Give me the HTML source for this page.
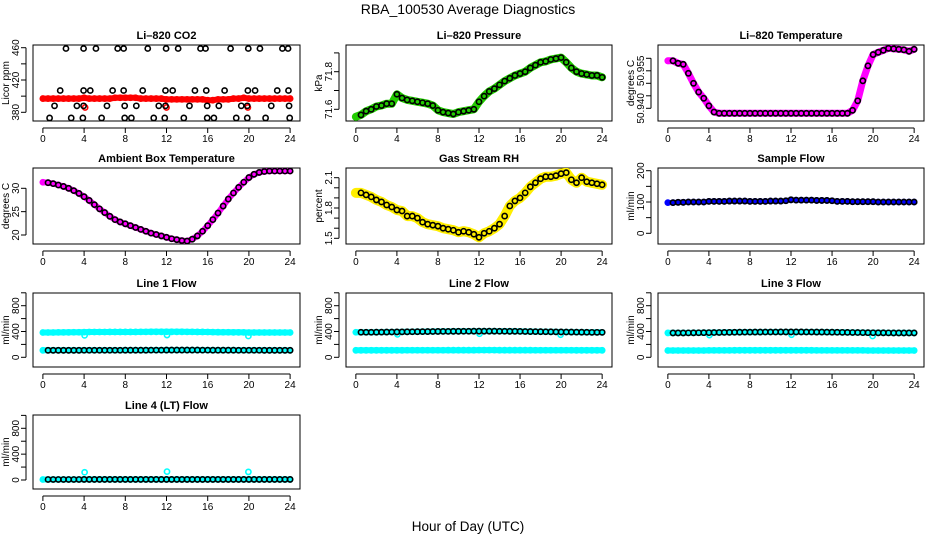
<!DOCTYPE html>
<html><head><meta charset="utf-8">
<style>
html,body{margin:0;padding:0;background:#fff;}
svg{display:block;font-family:"Liberation Sans",sans-serif;}
</style></head>
<body>
<svg id="chart" width="936" height="540" viewBox="0 0 936 540" xmlns="http://www.w3.org/2000/svg">
<text x="468" y="14" text-anchor="middle" font-size="14">RBA_100530  Average Diagnostics</text>
<text x="468" y="531" text-anchor="middle" font-size="13.5">Hour of Day (UTC)</text>
</svg>
<script>
// ---- data (half-hour steps, 0..24) ----
const hours = [];
for (let i = 0; i <= 48; i++) hours.push(i / 2);
const xTicks = [0, 4, 8, 12, 16, 20, 24];

const co2Band = [397,397,397,397,397,397,397,397,398,397,397,397,397,397,398,398,398,398,398,397,397,397,397,397,396,396,396,396,396,396,396,396,395,395,396,396,396,397,397,398,397,397,397,397,397,397,397,397,397];
const co2BlackHours = [2.24,3.95,5.15,7.26,7.84,10.18,11.96,13.13,15.3,15.79,18.22,19.94,21.07,23.25,23.8, 1.68,3.95,4.6,6.77,7.84,9.69,11.9,12.6,14.76,15.86,17.64,19.9,20.6,22.75,23.84, 1.13,3.3,3.95,6.22,7.94,9.07,11.25,11.9,14.23,15.95,17.08,19.26,19.84,22.17,23.9, 0.65,2.75,3.88,5.7,7.94,8.59,10.76,11.83,13.68,15.95,16.6,18.77,19.84,21.62,23.96];
const co2BlackVals = [459,459,459,459,459,459,459,459,459,459,459,459,459,459,459, 407,407,407,407,407,407,407,407,407,407,407,407,407,407,407, 388,388,388,388,388,388,388,388,388,388,388,388,388,388,388, 373,373,373,373,373,373,373,373,373,373,373,373,373,373,373];
const co2RedOutHours = [4.1, 12.0, 19.9];
const co2RedOutVals = [386, 386, 386];

const pressure = [71.56,71.57,71.59,71.60,71.615,71.62,71.63,71.63,71.68,71.66,71.65,71.645,71.64,71.635,71.63,71.62,71.595,71.585,71.58,71.575,71.585,71.59,71.595,71.60,71.64,71.67,71.695,71.71,71.73,71.75,71.765,71.78,71.79,71.80,71.82,71.835,71.85,71.855,71.865,71.87,71.875,71.85,71.82,71.80,71.79,71.785,71.78,71.78,71.77];

const liTemp = [50.959,50.959,50.958,50.9576,50.954,50.950,50.9465,50.944,50.941,50.9385,
 50.938,50.938,50.938,50.938,50.938,50.938,50.938,50.938,50.938,50.938,50.938,50.938,50.938,50.938,50.938,50.938,50.938,50.938,50.938,50.938,50.938,50.938,50.938,50.938,50.938,50.938,
 50.9392,50.943,50.951,50.957,50.9615,50.9624,50.9632,50.964,50.9638,50.9636,50.9634,50.9628,50.9636];

const ambient = [31.3,31.2,31.0,30.7,30.4,30.0,29.5,28.9,28.2,27.4,26.5,25.6,24.8,24.0,23.3,22.8,22.4,22.0,21.6,21.2,20.8,20.4,20.1,19.8,19.5,19.2,19.0,18.8,18.7,
 19.1,19.8,20.8,22.0,23.3,24.7,26.2,27.7,29.0,30.2,31.3,32.3,33.0,33.4,33.6,33.7,33.7,33.7,33.7,33.7];

const rh = [1.95,1.95,1.93,1.91,1.88,1.86,1.83,1.81,1.78,1.77,1.72,1.72,1.70,1.66,1.64,1.63,1.62,1.60,1.59,1.58,1.56,1.57,1.56,1.54,1.51,1.55,1.57,1.60,1.64,1.72,1.82,1.87,1.90,1.95,2.01,2.05,2.09,2.11,2.11,2.12,2.14,2.15,2.08,2.05,2.10,2.06,2.05,2.04,2.03];

const sampleFlow = [98,98,99,99,100,100,100,100,102,102,102,102,103,103,103,103,102,102,102,102,103,103,103,104,107,106,106,106,106,105,105,105,104,102,102,102,101,101,101,101,101,100,100,100,100,100,100,100,100];

const line1Hi = [385,385,385,386,386,387,388,388,390,392,392,392,392,393,393,393,393,393,393,394,394,395,395,395,396,395,395,395,394,394,393,393,392,390,389,388,388,387,387,386,385,385,385,385,384,384,384,384,384];
const line1Lo = [108,108,108,108,108,108,108,108,109,109,109,109,109,109,109,109,110,110,110,110,110,111,111,111,112,112,112,112,112,112,112,111,111,110,110,110,110,110,109,109,109,109,109,108,108,108,108,108,108];
const line1Out = [340, 345, 330];

const line2Hi = [388,388,388,388,389,390,391,392,393,394,395,396,397,398,399,400,401,402,402,403,403,404,404,405,405,405,405,405,404,404,403,403,402,400,399,398,397,396,395,394,393,392,391,390,389,388,387,387,387];
const line2Lo = [108,108,108,108,108,108,108,108,108,108,109,109,109,109,109,109,109,109,110,110,110,110,110,110,111,111,111,111,110,110,110,110,110,110,110,109,109,109,109,109,109,109,109,108,108,108,108,108,108];
const line2Out = [355, 365, 350];

const line3Hi = [378,378,378,378,379,380,381,382,383,384,385,386,387,388,389,390,390,391,391,392,392,392,393,393,393,393,393,392,392,391,391,390,389,388,387,386,385,384,383,382,381,380,380,379,378,378,378,378,378];
const line3Lo = [105,105,105,105,106,106,106,106,107,107,107,107,107,108,108,108,108,108,108,108,108,108,108,108,108,108,108,108,108,107,107,107,107,107,107,107,107,107,107,106,106,106,106,106,106,106,106,106,106];
const line3Out = [345, 350, 330];

const line4Flow = [8,8,8,8,8,8,8,8,9,9,9,9,9,9,9,9,9,9,9,9,9,9,9,9,9,9,9,9,9,9,9,9,9,9,9,9,9,9,9,9,9,9,9,9,9,9,9,9,9];
const line4Out = [120, 130, 125];
const outHours = [4.05, 12.05, 19.95];

// ---- layout ----
const NS = "http://www.w3.org/2000/svg";
const svg = document.getElementById('chart');
const cols = [[33,300],[346,612],[658,924]];
const rows = [[45,121],[168,244],[293,367],[415,489]];

function mk(tag, attrs, parent) {
  const e = document.createElementNS(NS, tag);
  for (const k in attrs) e.setAttribute(k, attrs[k]);
  (parent || svg).appendChild(e);
  return e;
}

function panel(cfg) {
  const [L, R] = cols[cfg.col];
  const [T, B] = rows[cfg.row];
  const g = mk('g', {});
  
  
  const W = R - L;
  const xs = h => L + W * (h + 0.96) / 25.92;
  const [v1, p1, v2, p2] = cfg.anchors;
  const ys = v => p1 + (v - v1) * (p2 - p1) / (v2 - v1);
  const box = mk('rect', {x: L, y: T, width: W, height: B - T, fill: 'none', stroke: '#000', 'stroke-width': 1}, g);
  
  
  const t = mk('text', {x: (L + R) / 2, y: T - 6, 'text-anchor': 'middle', 'font-size': 11, 'font-weight': 'bold'}, g);
  t.textContent = cfg.title;
  
  
  const xa = mk('g', {}, g);
  
  
  mk('line', {x1: xs(0), x2: xs(24), y1: B + 7, y2: B + 7, stroke: '#000'}, xa);
  xTicks.forEach(h => {
    mk('line', {x1: xs(h), x2: xs(h), y1: B + 7, y2: B + 12, stroke: '#000'}, xa);
    const tl = mk('text', {x: xs(h), y: B + 21, 'text-anchor': 'middle', 'font-size': 10}, xa);
    tl.textContent = h;
    
    
  });
  const ya = mk('g', {}, g);
  
  
  const tk = cfg.ticks;
  mk('line', {x1: L - 7, x2: L - 7, y1: ys(tk[0]), y2: ys(tk[tk.length - 1]), stroke: '#000'}, ya);
  tk.forEach(v => mk('line', {x1: L - 12, x2: L - 7, y1: ys(v), y2: ys(v), stroke: '#000'}, ya));
  cfg.labels.forEach((lab, i) => {
    const y = ys(cfg.labelVals[i]);
    const tl = mk('text', {x: 0, y: 0, transform: `translate(${L - 14},${y}) rotate(-90)`, 'text-anchor': 'middle', 'font-size': 10}, ya);
    tl.textContent = lab;
    
    
  });
  const yt = mk('text', {x: 0, y: 0, transform: `translate(${L - 24},${(T + B) / 2}) rotate(-90)`, 'text-anchor': 'middle', 'font-size': 10}, ya);
  yt.textContent = cfg.ylab;
  
  
  const cid = 'clip-' + cfg.name;
  const cp = mk('clipPath', {id: cid}, g);
  mk('rect', {x: L, y: T, width: W, height: B - T}, cp);
  const plot = mk('g', {'clip-path': `url(#${cid})`}, g);
  
  
  cfg.draw(plot, xs, ys);
}

function band(parent, xsArr, vals, xs, ys, color, name, width) {
  const pts = vals.map((v, i) => xs(xsArr[i]).toFixed(1) + ',' + ys(v).toFixed(1)).join(' ');
  const pl = mk('polyline', {points: pts, fill: 'none', stroke: color, 'stroke-width': width || 6, 'stroke-linejoin': 'round', 'stroke-linecap': 'round'}, parent);
  
  
  vals.forEach((v, i) => {
    const c = mk('circle', {cx: xs(xsArr[i]), cy: ys(v), r: 2.6, fill: 'none', stroke: color, 'stroke-width': 1.6}, parent);
    
    
  });
}
function circles(parent, xsArr, vals, xs, ys, color, name, skipFirst) {
  vals.forEach((v, i) => {
    if (skipFirst && i === 0) return;
    const c = mk('circle', {cx: xs(xsArr[i]), cy: ys(v), r: 2.6, fill: 'none', stroke: color, 'stroke-width': 1.6}, parent);
    
    
  });
}

panel({name: 'co2-panel', col: 0, row: 0, title: 'Li\u2013820 CO2', ylab: 'Licor ppm',
  anchors: [380, 112.3, 460, 47.7], ticks: [380,400,420,440,460], labels: ['380','420','460'], labelVals: [380,420,460],
  draw: (p, xs, ys) => {
    band(p, hours, co2Band, xs, ys, '#ff0000', 'co2-band', 6);
    circles(p, co2RedOutHours, co2RedOutVals, xs, ys, '#ff0000', 'co2-outlier');
    circles(p, co2BlackHours, co2BlackVals, xs, ys, '#000', 'co2-average');
  }});

panel({name: 'pressure-panel', col: 1, row: 0, title: 'Li\u2013820 Pressure', ylab: 'kPa',
  anchors: [71.6, 109.3, 71.8, 71.7], ticks: [71.6,71.7,71.8,71.9], labels: ['71.6','71.8'], labelVals: [71.6,71.8],
  draw: (p, xs, ys) => {
    band(p, hours, pressure, xs, ys, '#22cc00', 'pressure-band', 8);
    circles(p, hours, pressure, xs, ys, '#000', 'pressure-average', true);
  }});

panel({name: 'li-temp-panel', col: 2, row: 0, title: 'Li\u2013820 Temperature', ylab: 'degrees C',
  anchors: [50.940, 108.3, 50.955, 70.8], ticks: [50.940,50.945,50.950,50.955,50.960], labels: ['50.940','50.955'], labelVals: [50.940,50.955],
  draw: (p, xs, ys) => {
    band(p, hours, liTemp, xs, ys, '#ff00ff', 'li-temp-band', 7);
    circles(p, hours, liTemp, xs, ys, '#000', 'li-temp-average', true);
  }});

panel({name: 'ambient-panel', col: 0, row: 1, title: 'Ambient Box Temperature', ylab: 'degrees C',
  anchors: [20, 235, 30, 188.3], ticks: [20,25,30], labels: ['20','25','30'], labelVals: [20,25,30],
  draw: (p, xs, ys) => {
    band(p, hours, ambient, xs, ys, '#ff00ff', 'ambient-band', 6);
    circles(p, hours, ambient, xs, ys, '#000', 'ambient-average', true);
  }});

panel({name: 'rh-panel', col: 1, row: 1, title: 'Gas Stream RH', ylab: 'percent',
  anchors: [1.5, 238.3, 2.1, 177.7], ticks: [1.5,1.6,1.7,1.8,1.9,2.0,2.1], labels: ['1.5','1.8','2.1'], labelVals: [1.5,1.8,2.1],
  draw: (p, xs, ys) => {
    band(p, hours, rh, xs, ys, '#ffee00', 'rh-band', 10);
    circles(p, hours, rh, xs, ys, '#000', 'rh-average', true);
  }});

panel({name: 'sample-flow-panel', col: 2, row: 1, title: 'Sample Flow', ylab: 'ml/min',
  anchors: [0, 233.3, 200, 170.7], ticks: [0,50,100,150,200], labels: ['0','100','200'], labelVals: [0,100,200],
  draw: (p, xs, ys) => {
    band(p, hours, sampleFlow, xs, ys, '#0000ff', 'sample-flow-band', 5);
    circles(p, hours, sampleFlow, xs, ys, '#000', 'sample-flow-average', true);
  }});

const flowTicks = [0,200,400,600,800,1000];
function flowPanel(name, col, row, title, anchors, hi, lo, out, blackOn) {
  panel({name, col, row, title, ylab: 'ml/min', anchors, ticks: flowTicks, labels: ['0','400','800'], labelVals: [0,400,800],
    draw: (p, xs, ys) => {
      if (hi) band(p, hours, hi, xs, ys, '#00ffff', name + '-high-band', 6);
      band(p, hours, lo, xs, ys, '#00ffff', name + '-low-band', 6);
      circles(p, outHours, out, xs, ys, '#00ffff', name + '-outlier');
      circles(p, hours, blackOn, xs, ys, '#000', name + '-average', true);
    }});
}
flowPanel('line1-flow-panel', 0, 2, 'Line 1 Flow', [0, 357.3, 800, 305.7], line1Hi, line1Lo, line1Out, line1Lo);
flowPanel('line2-flow-panel', 1, 2, 'Line 2 Flow', [0, 357.3, 800, 305.7], line2Hi, line2Lo, line2Out, line2Hi);
flowPanel('line3-flow-panel', 2, 2, 'Line 3 Flow', [0, 357.3, 800, 305.7], line3Hi, line3Lo, line3Out, line3Hi);
flowPanel('line4-flow-panel', 0, 3, 'Line 4 (LT) Flow', [0, 480, 800, 428.3], null, line4Flow, line4Out, line4Flow);
</script>
</body></html>
